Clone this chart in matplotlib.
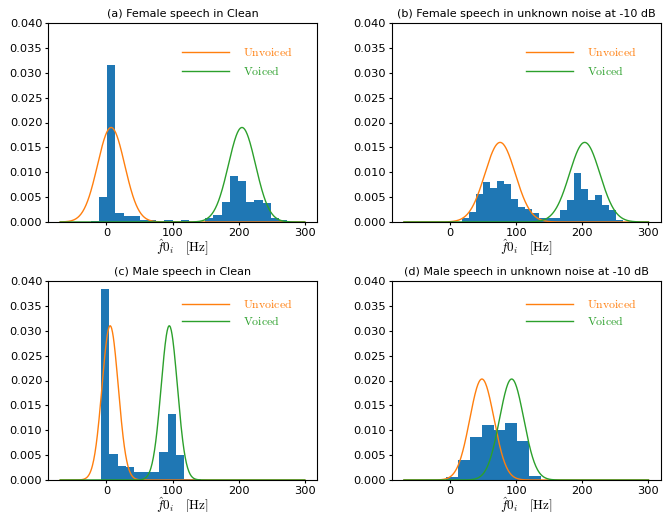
import numpy as np
import matplotlib
matplotlib.use('Agg')
import matplotlib.pyplot as plt

plt.rcParams['mathtext.fontset'] = 'cm'
plt.rcParams['font.size'] = 8

titles = ['(a) Female speech in Clean',
          '(b) Female speech in unknown noise at -10 dB',
          '(c) Male speech in Clean',
          '(d) Male speech in unknown noise at -10 dB']

# histogram bins (first edge, last edge) and bar heights
a_range = (-23.7, 273.2)
a_heights = [0.0003, 0.0050, 0.0316, 0.0018, 0.0012, 0.0012, 0.0005, 0.0005,
             0.0, 0.0004, 0.0, 0.0004, 0.0, 0.0, 0.0008, 0.0014, 0.0041,
             0.0093, 0.0083, 0.0041, 0.0044, 0.0039, 0.0008, 0.0004]
b_range = (17.7, 261.0)
b_heights = [0.0008, 0.0020, 0.0057, 0.0080, 0.0068, 0.0082, 0.0076, 0.0046,
             0.0030, 0.0026, 0.0019, 0.0009, 0.0008, 0.0008, 0.0024, 0.0044,
             0.0098, 0.0066, 0.0044, 0.0054, 0.0034, 0.0024, 0.0004]
c_range = (-8.6, 143.0)
c_heights = [0.0384, 0.0053, 0.0029, 0.0026, 0.0017, 0.0017, 0.0017, 0.0057,
             0.0133, 0.0051, 0.0003, 0.0003]
d_range = (-5.9, 137.3)
d_heights = [0.0006, 0.0041, 0.0087, 0.0111, 0.0100, 0.0115, 0.0079, 0.0009]

# gaussian fits: unvoiced mean, voiced mean, sigma, peak
mu_unvoiced = [7, 75.5, 5.5, 48]
mu_voiced = [205, 203.5, 95, 93]
sigma = [20.5, 23, 12.3, 18.3]
peak = [0.019, 0.016, 0.031, 0.0203]

ranges = [a_range, b_range, c_range, d_range]
heights = [a_heights, b_heights, c_heights, d_heights]

fig = plt.figure(figsize=(6.67, 5.12), dpi=100)
W, H = 667, 512
boxes = [(48, 23), (391.7, 23), (48, 281), (391.7, 281)]

xs = np.linspace(-70, 300, 600)

for i in range(4):
    x0, y0 = boxes[i]
    ax = fig.add_axes([x0 / W, 1 - (y0 + 199) / H, 269 / W, 199 / H])
    h = np.array(heights[i])
    edges = np.linspace(ranges[i][0], ranges[i][1], len(h) + 1)
    ax.bar(edges[:-1], h, width=np.diff(edges), align='edge', color='C0')
    g_u = peak[i] * np.exp(-0.5 * ((xs - mu_unvoiced[i]) / sigma[i]) ** 2)
    g_v = peak[i] * np.exp(-0.5 * ((xs - mu_voiced[i]) / sigma[i]) ** 2)
    ax.plot(xs, g_u, color='C1', lw=1, label=r'$\mathrm{Unvoiced}$')
    ax.plot(xs, g_v, color='C2', lw=1, label=r'$\mathrm{Voiced}$')
    ax.set_ylim(0, 0.04)
    ax.set_yticks(np.arange(0, 0.0401, 0.005))
    ax.yaxis.set_major_formatter(plt.FormatStrFormatter('%.3f'))
    ax.set_xticks([0, 100, 200, 300])
    ax.tick_params(length=2.5, pad=1.6, labelsize=8.2)
    ax.set_title(titles[i], fontsize=8, pad=4)
    ax.set_xlabel(r'$\hat{f}0_i\quad[\mathrm{Hz}]$', fontsize=9.5, labelpad=0)
    if i < 2:
        ax.legend(loc='upper right', bbox_to_anchor=(0.91, 0.885), frameon=False,
                  fontsize=8.5, handlelength=4, handletextpad=1.2,
                  borderpad=0, borderaxespad=0, labelspacing=0.55,
                  labelcolor='linecolor')
    else:
        ax.legend(loc='upper right', bbox_to_anchor=(0.91, 0.915), frameon=False,
                  fontsize=8.5, handlelength=4, handletextpad=1.2,
                  borderpad=0, borderaxespad=0, labelspacing=0.35,
                  labelcolor='linecolor')

plt.savefig('out.png', dpi=100)
